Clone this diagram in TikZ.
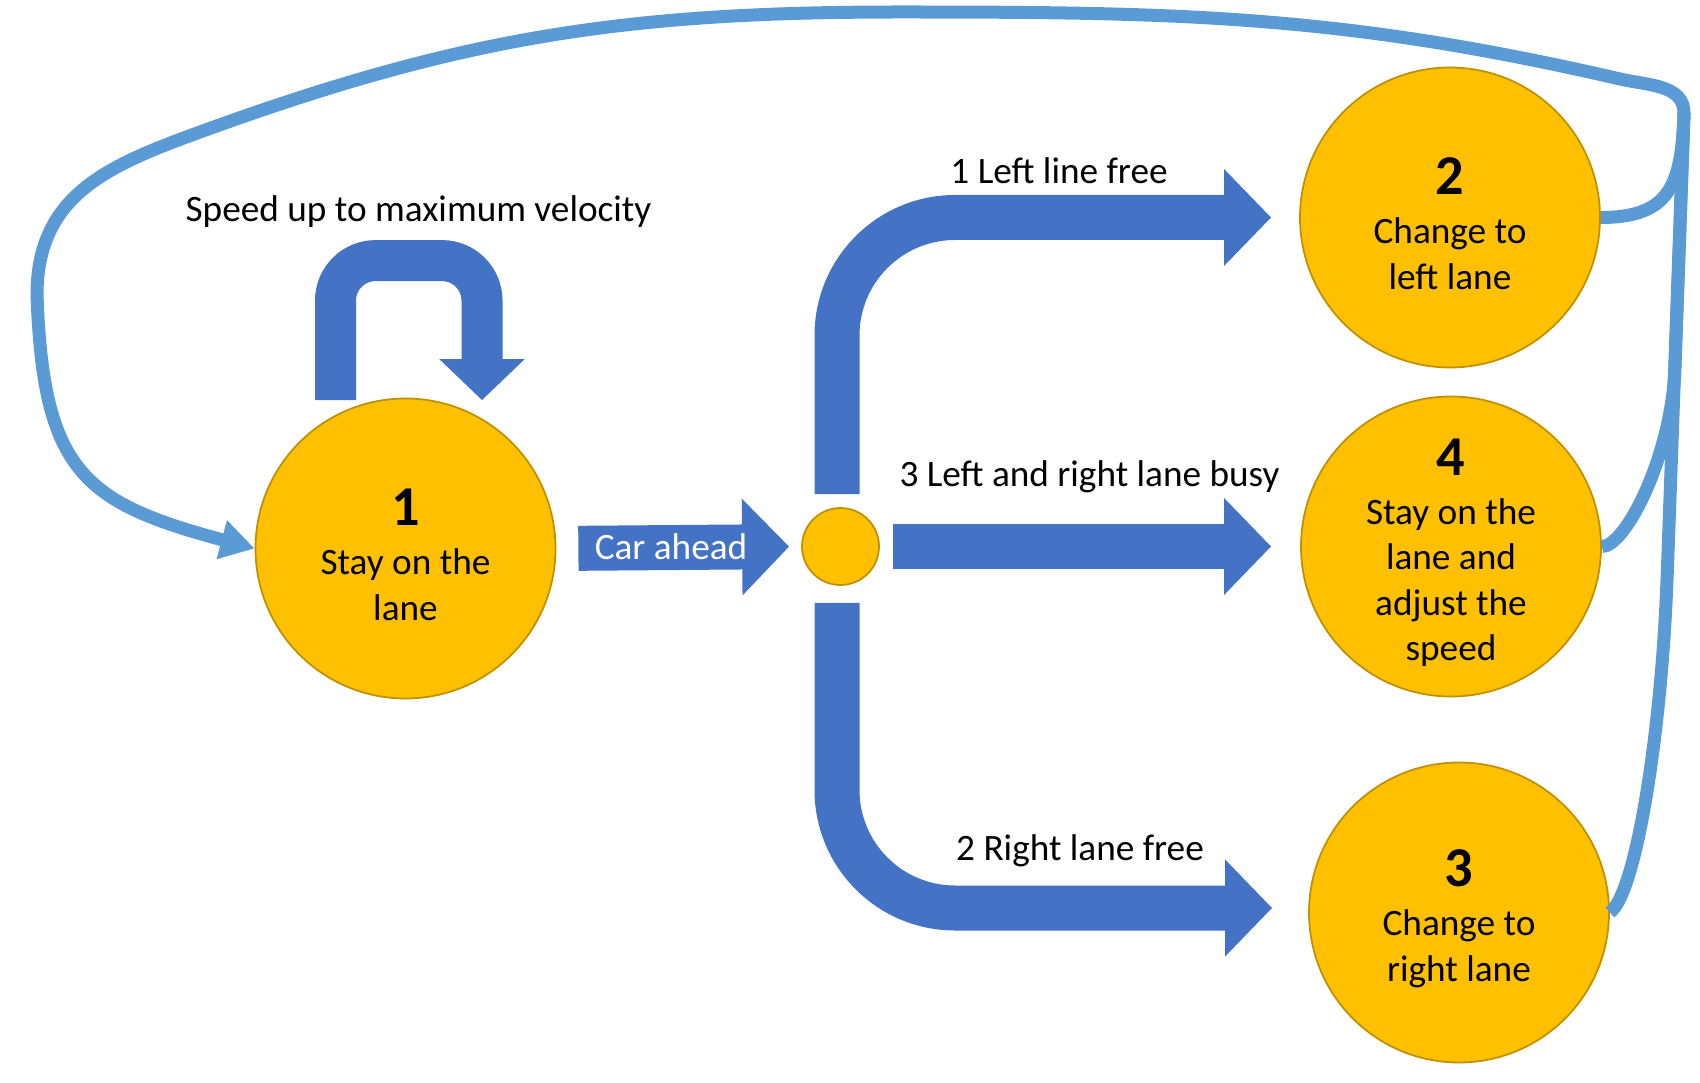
\documentclass[tikz,border=0pt]{standalone}
\usepackage{fontspec}
\setmainfont{Carlito}
\usetikzlibrary{arrows.meta}
\definecolor{gold}{HTML}{FFC000}
\definecolor{golddark}{HTML}{BF9000}
\definecolor{flowblue}{HTML}{4472C4}
\definecolor{backblue}{HTML}{5B9BD5}
\newcommand{\statenum}[1]{\rule{0pt}{14pt}{\fontsize{16}{16}\selectfont\bfseries #1}}
\begin{document}
\begin{tikzpicture}[font=\fontsize{10.6}{12.95}\selectfont,
      state/.style={circle, draw=golddark, line width=0.5pt, fill=gold, minimum size=3cm, inner sep=0pt, align=center},
      hub/.style={circle, draw=golddark, line width=0.5pt, fill=gold, minimum size=0.77cm, inner sep=0pt},
      flow/.style={draw=flowblue, line width=0.45cm, -{Triangle[length=0.47cm, width=0.94cm]}},
      back/.style={draw=backblue, line width=0.13cm},
      lbl/.style={anchor=base}]
    \useasboundingbox (0,0) rectangle (17,-10.83);
    \node[state] (s1) at (4.055,-5.485) {\statenum{1}\\[1pt]Stay on the\\lane};
    \node[state] (s2) at (14.50,-2.175) {\statenum{2}\\[1pt]Change to\\left lane};
    \node[state] (s4) at (14.51,-5.465) {\statenum{4}\\[1pt]Stay on the\\lane and\\adjust the\\speed};
    \node[state] (s3) at (14.59,-9.125) {\statenum{3}\\[1pt]Change to\\right lane};
    \node[hub] (hub) at (8.405,-5.465) {};
    % block arrows
    \draw[flow, line width=0.41cm, -{Triangle[length=0.41cm, width=0.83cm]}, rounded corners=0.4cm]
      (s1.north) ++(-0.70,-0.025) -- ++(0,1.395) -- ++(1.465,0) -- ++(0,-1.395);
    \draw[flow, shorten <=0.22cm, shorten >=0.12cm] (s1.east) -- (hub.west);
    \draw[flow, shorten >=0.28cm, rounded corners=1.18cm] (hub.north) ++(-0.035,0.13) |- (s2.west);
    \draw[flow, shorten <=0.13cm, shorten >=0.29cm] (hub.east) -- (s4.west);
    \draw[flow, shorten >=0.36cm, rounded corners=1.18cm] (hub.south) ++(-0.035,-0.17) |- ([yshift=0.045cm]s3.west);
    % way back to state 1
    \coordinate (top) at (16.84,-1.13);
    \coordinate (mid) at (16.75,-3.67);
    \coordinate (low) at (16.67,-5.80);
    \draw[back] (s2.east) to[out=0, in=-92, looseness=1.35] (top);
    \draw[back] (s4.east) .. controls (16.25,-5.47) and (16.717,-4.57) .. (mid) -- (top);
    \draw[back] (s3.east) .. controls (16.35,-8.95) and (16.61,-7.40) .. (low) -- (top);
    \draw[back, line cap=round, -{Triangle[length=0.34cm, width=0.38cm]}] (top)
      to[out=90, in=-13] (16.2,-0.79) to[out=167, in=0] (9.0,-0.12)
      to[out=180, in=20] (2.0,-1.32) to[out=200, in=90, looseness=1.1] (0.37,-2.95)
      to[out=-88, in=165, looseness=1.35] (s1.west);
    % labels
    \node[lbl] (speedlbl) at (4.185,-2.22) {Speed up to maximum velocity};
    \node[lbl] (leftlbl) at (10.59,-1.84) {1 Left line free};
    \node[lbl] (busylbl) at (10.895,-4.87) {3 Left and right lane busy};
    \node[lbl] (rightlbl) at (10.80,-8.60) {2 Right lane free};
    \node[lbl, text=white] (carlbl) at (6.71,-5.60) {Car ahead};
  \end{tikzpicture}
\end{document}
